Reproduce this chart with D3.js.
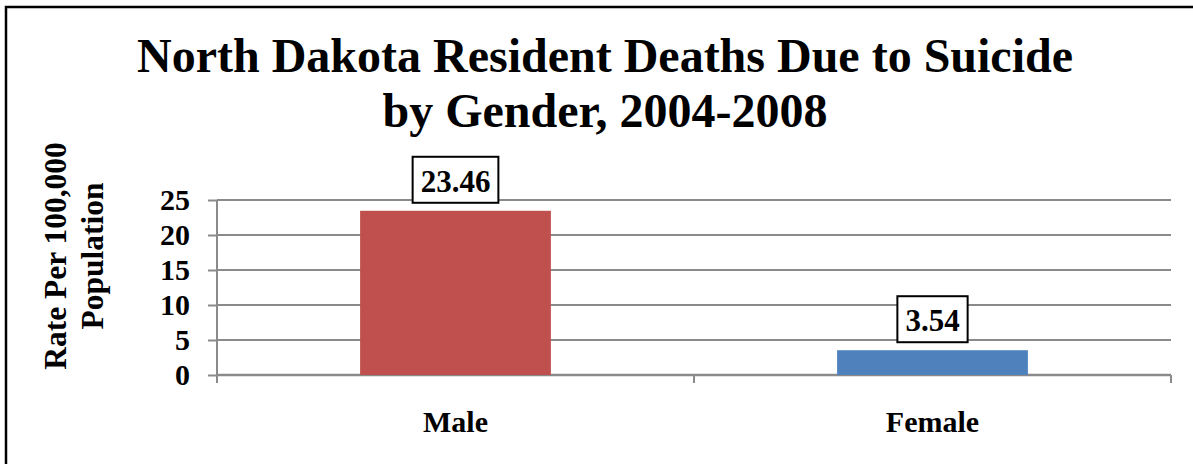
<!DOCTYPE html>
<html>
<head>
<meta charset="utf-8">
<script src="https://cdn.jsdelivr.net/npm/d3@7"></script>
<style>
  body { margin: 0; background: #fff; }
  svg text { font-family: "Liberation Serif", "Times New Roman", serif; font-weight: bold; fill: #000; }
</style>
</head>
<body>
<svg width="1193" height="464"></svg>
<script>
// Data
const categories = ["Male", "Female"];
const rates = [23.46, 3.54];
const barColors = ["#c0504d", "#4f81bd"];
const yTicks = [0, 5, 10, 15, 20, 25];
const titleLines = ["North Dakota Resident Deaths Due to Suicide", "by Gender, 2004-2008"];
const yTitleLines = ["Rate Per 100,000", "Population"];

const svg = d3.select("svg");

// outer frame (runs off the right and bottom edges)
svg.append("rect")
    .attr("x", 6).attr("y", 7)
    .attr("width", 1200).attr("height", 470)
    .attr("fill", "none")
    .attr("stroke", "#000")
    .attr("stroke-width", 2.5);

// Title
svg.append("g").selectAll("text")
    .data(titleLines)
  .enter().append("text")
    .attr("x", 605)
    .attr("y", (d, i) => 72 + i * 55)
    .attr("text-anchor", "middle")
    .style("font-size", "48px")
    .text(d => d);

// Scales
const x = d3.scaleBand()
    .domain(categories)
    .range([217, 1171])
    .paddingInner(0.6)
    .paddingOuter(0.3);

const y = d3.scaleLinear()
    .domain([0, 25])
    .range([375, 200]);

const gridColor = "#8a8a8a";

// gridlines
svg.append("g").selectAll("line")
    .data(yTicks.filter(d => d > 0))
  .enter().append("line")
    .attr("x1", 217).attr("x2", 1171)
    .attr("y1", d => y(d)).attr("y2", d => y(d))
    .attr("stroke", gridColor)
    .attr("stroke-width", 2);

// y axis
let yAxis = svg.append("g")
    .attr("transform", "translate(217,0)")
    .call(d3.axisLeft(y).tickValues(yTicks).tickSize(9).tickPadding(18));
yAxis.select(".domain").attr("stroke", gridColor).attr("stroke-width", 2)
    .attr("d", "M0," + y(25) + "V" + (y(0) + 8));
yAxis.selectAll(".tick line").attr("stroke", gridColor).attr("stroke-width", 2);
yAxis.selectAll(".tick text")
    .style("font-family", "Liberation Serif, serif")
    .style("font-weight", "bold")
    .style("font-size", "30px")
    .attr("fill", "#000");

// x axis
let xAxis = svg.append("g")
    .attr("transform", "translate(0," + y(0) + ")");
xAxis.append("line")
    .attr("x1", 217).attr("x2", 1171)
    .attr("stroke", gridColor).attr("stroke-width", 2.5);
xAxis.selectAll(".sep")
    .data([217, x("Female") - x.step() * x.paddingInner() / 2, 1171])
  .enter().append("line")
    .attr("x1", d => d).attr("x2", d => d)
    .attr("y1", 0).attr("y2", 8)
    .attr("stroke", gridColor).attr("stroke-width", 2);

svg.append("g").selectAll("text")
    .data(categories)
  .enter().append("text")
    .attr("x", d => x(d) + x.bandwidth() / 2)
    .attr("y", 432)
    .attr("text-anchor", "middle")
    .style("font-size", "30px")
    .text(d => d);

// y axis title
svg.append("g").selectAll("text")
    .data(yTitleLines)
  .enter().append("text")
    .attr("transform", (d, i) => "translate(" + (66 + i * 37) + ",256) rotate(-90)")
    .attr("text-anchor", "middle")
    .style("font-size", "31.5px")
    .text(d => d);

// bars
svg.append("g").selectAll("rect")
    .data(rates)
  .enter().append("rect")
    .attr("x", (d, i) => x(categories[i]))
    .attr("y", d => y(d))
    .attr("width", x.bandwidth())
    .attr("height", d => y(0) - y(d))
    .attr("fill", (d, i) => barColors[i]);

// value labels with boxes
let labels = svg.append("g").selectAll("g")
    .data(rates)
  .enter().append("g");
labels.append("rect").attr("class", "box");
labels.append("text")
    .attr("x", (d, i) => x(categories[i]) + x.bandwidth() / 2)
    .attr("y", d => y(d) - 19)
    .attr("text-anchor", "middle")
    .style("font-size", "31px")
    .text(d => d.toFixed(2));
labels.each(function () {
    let g = d3.select(this);
    let b = g.select("text").node().getBBox();
    g.select("rect")
        .attr("x", b.x - 8)
        .attr("width", b.width + 16)
        .attr("y", +g.select("text").attr("y") - 35)
        .attr("height", 46)
        .attr("fill", "#fff")
        .attr("stroke", "#000")
        .attr("stroke-width", 2);
});
</script>
</body>
</html>
